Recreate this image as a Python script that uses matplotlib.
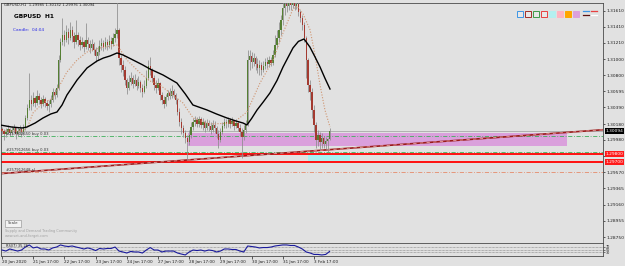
import numpy as np
import matplotlib
matplotlib.use("Agg")
import matplotlib.pyplot as plt
from matplotlib.patches import Rectangle
from matplotlib.lines import Line2D

# ---------------- data ----------------
symbol = "GBPUSD"
timeframe = "H1"
candle_timer = "04:04"
first_open = 1.30120

closes = [1.30092, 1.30054, 1.30080, 1.30117, 1.30067, 1.30105, 1.30130, 1.30054, 1.30092, 1.30117,
          1.30080, 1.30130, 1.30256, 1.30383, 1.30484, 1.30433, 1.30509, 1.30446, 1.30535, 1.30484,
          1.30433, 1.30497, 1.30446, 1.30408, 1.30433, 1.30484, 1.30585, 1.30547, 1.30636, 1.30990,
          1.31218, 1.31306, 1.31243, 1.31344, 1.31268, 1.31370, 1.31294, 1.31218, 1.31306, 1.31243,
          1.31180, 1.31218, 1.31154, 1.31243, 1.31192, 1.31142, 1.31192, 1.31117, 1.31041, 1.31091,
          1.31167, 1.31205, 1.31154, 1.31218, 1.31180, 1.31230, 1.31192, 1.31268, 1.31319, 1.31370,
          1.31015, 1.30927, 1.30864, 1.30737, 1.30636, 1.30712, 1.30762, 1.30686, 1.30737, 1.30661,
          1.30712, 1.30636, 1.30585, 1.30661, 1.30762, 1.30914, 1.30864, 1.30762, 1.30674, 1.30636,
          1.30699, 1.30547, 1.30484, 1.30433, 1.30522, 1.30573, 1.30535, 1.30598, 1.30547, 1.30484,
          1.30332, 1.30206, 1.30130, 1.30067, 1.30003, 1.29953, 1.30041, 1.30142, 1.30206, 1.30231,
          1.30180, 1.30244, 1.30168, 1.30206, 1.30130, 1.30193, 1.30155, 1.30105, 1.30168, 1.30130,
          1.30054, 1.29978, 1.30080, 1.30155, 1.30206, 1.30180, 1.30231, 1.30180, 1.30218, 1.30155,
          1.30193, 1.30130, 1.30080, 1.30016, 1.30105, 1.30180, 1.30990, 1.31041, 1.30965, 1.31015,
          1.30939, 1.30889, 1.30927, 1.30864, 1.30914, 1.30965, 1.30939, 1.30990, 1.30952, 1.31053,
          1.31180, 1.31268, 1.31370, 1.31496, 1.31648, 1.31698, 1.31673, 1.31724, 1.31686, 1.31711,
          1.31673, 1.31698, 1.31597, 1.31521, 1.31433, 1.31268, 1.30990, 1.30674, 1.30585, 1.30358,
          1.30168, 1.29978, 1.30041, 1.29953, 1.30003, 1.29927, 1.29965, 1.29985, 1.30094]

highs = [1.30142, 1.30117, 1.30130, 1.30168, 1.30130, 1.30155, 1.30180, 1.30142, 1.30142, 1.30168,
         1.30142, 1.30180, 1.30294, 1.30433, 1.30826, 1.30547, 1.30585, 1.30535, 1.30611, 1.30573,
         1.30522, 1.30547, 1.30522, 1.30484, 1.30484, 1.30547, 1.30636, 1.30623, 1.30686, 1.31053,
         1.31268, 1.31521, 1.31370, 1.31433, 1.31395, 1.31471, 1.31420, 1.31344, 1.31496, 1.31344,
         1.31294, 1.31281, 1.31243, 1.31458, 1.31281, 1.31243, 1.31256, 1.31218, 1.31154, 1.31167,
         1.31243, 1.31268, 1.31243, 1.31281, 1.31256, 1.31306, 1.31281, 1.31332, 1.31395, 1.31812,
         1.31395, 1.31053, 1.30990, 1.30914, 1.30762, 1.30800, 1.30838, 1.30800, 1.30813, 1.30762,
         1.30788, 1.30737, 1.30686, 1.30737, 1.30864, 1.30990, 1.31028, 1.30889, 1.30800, 1.30737,
         1.30762, 1.30712, 1.30585, 1.30535, 1.30560, 1.30611, 1.30636, 1.30674, 1.30623, 1.30573,
         1.30509, 1.30383, 1.30256, 1.30168, 1.30105, 1.30041, 1.30105, 1.30206, 1.30256, 1.30282,
         1.30269, 1.30282, 1.30269, 1.30256, 1.30231, 1.30244, 1.30231, 1.30206, 1.30231, 1.30218,
         1.30155, 1.30105, 1.30130, 1.30206, 1.30256, 1.30244, 1.30269, 1.30256, 1.30269, 1.30231,
         1.30244, 1.30218, 1.30180, 1.30130, 1.30168, 1.30231, 1.31117, 1.31117, 1.31091, 1.31079,
         1.31041, 1.31015, 1.30990, 1.30965, 1.30977, 1.31015, 1.31028, 1.31041, 1.31028, 1.31117,
         1.31306, 1.31370, 1.31471, 1.31559, 1.31749, 1.31787, 1.31749, 1.31800, 1.31774, 1.31787,
         1.31749, 1.31774, 1.31724, 1.31623, 1.31559, 1.31471, 1.31294, 1.31015, 1.30737, 1.30636,
         1.30421, 1.30206, 1.30105, 1.30080, 1.30067, 1.30029, 1.30016, 1.30003, 1.30132]

lows = [1.30054, 1.29978, 1.30016, 1.30054, 1.30029, 1.30041, 1.30067, 1.29991, 1.30029, 1.30054,
        1.30016, 1.30041, 1.30105, 1.30231, 1.30358, 1.30358, 1.30408, 1.30395, 1.30421, 1.30433,
        1.30383, 1.30408, 1.30395, 1.30358, 1.30332, 1.30395, 1.30459, 1.30497, 1.30522, 1.30611,
        1.30965, 1.31180, 1.31167, 1.31218, 1.31192, 1.31243, 1.31218, 1.31142, 1.31192, 1.31167,
        1.31117, 1.31142, 1.31091, 1.31129, 1.31117, 1.31079, 1.31104, 1.31053, 1.30965, 1.30990,
        1.31053, 1.31117, 1.31104, 1.31129, 1.31117, 1.31142, 1.31129, 1.31167, 1.31218, 1.31268,
        1.30927, 1.30838, 1.30788, 1.30674, 1.30560, 1.30611, 1.30674, 1.30636, 1.30661, 1.30611,
        1.30636, 1.30585, 1.30522, 1.30573, 1.30636, 1.30737, 1.30800, 1.30712, 1.30611, 1.30573,
        1.30611, 1.30484, 1.30433, 1.30383, 1.30408, 1.30484, 1.30497, 1.30509, 1.30509, 1.30433,
        1.30294, 1.30155, 1.30054, 1.30016, 1.29940, 1.29725, 1.29915, 1.30003, 1.30105, 1.30155,
        1.30142, 1.30142, 1.30130, 1.30105, 1.30080, 1.30105, 1.30092, 1.30054, 1.30080, 1.30067,
        1.30003, 1.29877, 1.29953, 1.30054, 1.30130, 1.30130, 1.30142, 1.30130, 1.30155, 1.30105,
        1.30130, 1.30092, 1.30029, 1.29750, 1.29978, 1.30067, 1.30155, 1.30864, 1.30889, 1.30914,
        1.30864, 1.30826, 1.30800, 1.30800, 1.30838, 1.30876, 1.30889, 1.30901, 1.30914, 1.30927,
        1.31028, 1.31142, 1.31218, 1.31306, 1.31433, 1.31559, 1.31597, 1.31623, 1.31623, 1.31648,
        1.31623, 1.31635, 1.31547, 1.31471, 1.31370, 1.31218, 1.30762, 1.30585, 1.30484, 1.30256,
        1.30080, 1.29877, 1.29902, 1.29852, 1.29877, 1.29877, 1.29852, 1.29826, 1.29976]

ma_slow_bars = [-1.0, 5.0, 10.3, 12.8, 17.0, 21.0, 25.0, 28.2, 30.8, 33.3, 38.5, 43.6, 48.7, 52.0,
                55.4, 59.0, 62.1, 67.2, 72.0, 75.9, 82.6, 89.7, 94.0, 97.9, 105.1, 110.0, 115.4,
                120.0, 123.6, 125.6, 128.0, 130.8, 134.0, 137.4, 141.0, 144.1, 149.2, 152.0,
                154.9, 157.9, 160.5, 163.1, 165.6, 168.2]
ma_slow_vals = [1.30168, 1.30142, 1.30130, 1.30142, 1.30193, 1.30256, 1.30307, 1.30332, 1.30421,
                1.30547, 1.30737, 1.30889, 1.30977, 1.31015, 1.31041, 1.31079, 1.31053, 1.30990,
                1.30930, 1.30876, 1.30800, 1.30699, 1.30560, 1.30421, 1.30358, 1.30307, 1.30256,
                1.30218, 1.30193, 1.30168, 1.30250, 1.30358, 1.30460, 1.30573, 1.30730, 1.30901,
                1.31142, 1.31225, 1.31256, 1.31154, 1.31030, 1.30901, 1.30760, 1.30623]

ma_fast_bars = [0, 10.8, 13.3, 15.9, 21.0, 26.2, 29.7, 33.3, 38.5, 43.6, 50.3, 59.0, 64.1, 70.8,
                75.9, 81.0, 92.8, 98.0, 106.7, 118.5, 125.6, 132.3, 139.0, 144.1, 149.2, 151.3,
                154.4, 158.0, 160.5, 163.1, 165.6, 168.2]
ma_fast_vals = [1.30092, 1.30092, 1.30155, 1.30320, 1.30446, 1.30509, 1.30674, 1.30838, 1.30990,
                1.31091, 1.31142, 1.31180, 1.30990, 1.30826, 1.30724, 1.30674, 1.30446, 1.30256,
                1.30180, 1.30193, 1.30332, 1.30699, 1.30990, 1.31332, 1.31635, 1.31673, 1.31572,
                1.31370, 1.31053, 1.30674, 1.30358, 1.30142]

rsi_bars = list(range(0, 169, 2))
rsi_vals = [46, 38, 54, 46, 38, 46, 69, 85, 62, 69, 54, 54, 46, 62, 69, 85, 77, 73, 77, 69,
            62, 54, 62, 54, 42, 58, 54, 58, 58, 69, 38, 31, 23, 35, 31, 31, 23, 46, 65, 46,
            46, 31, 38, 38, 38, 23, 15, 8, 31, 46, 42, 46, 38, 46, 42, 31, 38, 54, 54, 50,
            50, 38, 31, 77, 73, 69, 62, 65, 65, 69, 77, 81, 85, 85, 81, 81, 69, 54, 31, 23,
            12, 12, 8, 12, 35]
rsi_levels = [70, 50, 30]
rsi_label = "RSI(7) 35.26"

time_tick_bars = [0, 16, 32, 48, 64, 80, 96, 112, 128, 144, 160]
time_tick_labels = ["20 Jan 2020", "21 Jan 17:00", "22 Jan 17:00", "23 Jan 17:00", "24 Jan 17:00",
                    "27 Jan 17:00", "28 Jan 17:00", "29 Jan 17:00", "30 Jan 17:00", "31 Jan 17:00",
                    "3 Feb 17:00"]
price_tick_labels = ["1.31610", "1.31410", "1.31210", "1.31000", "1.30800", "1.30595", "1.30390",
                     "1.30180", "1.29980", "1.29780", "1.29570", "1.29365", "1.29160", "1.28955",
                     "1.28750"]

zone_pink = (95.4, 289.7, 1.29900, 1.30065)
zone_cyan = (157.0, 178.5, 1.29710, 1.29790)
red_levels = [1.29800, 1.29700]
buy_levels = [1.30030, 1.29830]
buy_labels = ["#257912650 buy 0.03", "#257912656 buy 0.03"]
sl_level = 1.29575
sl_label = "#257912648 sl"
trend_p1 = (0, 1.29554)
trend_p2 = (300, 1.30093)

# ---------------- figure ----------------
W, H = 625, 266
BG = "#E1E1E1"
plt.rcParams["font.family"] = ["DejaVu Sans"]
fig = plt.figure(figsize=(W / 100, H / 100), dpi=100, facecolor=BG)

def fx(px):
    return px / W

def fy(py):
    return 1 - py / H

ax = fig.add_axes([fx(1), fy(243), fx(602), 240 / H], facecolor=BG)
ax2 = fig.add_axes([fx(1), fy(256), fx(602), 13 / H], facecolor=BG)

xmin, xmax = -0.51, 308.2
ax.set_xlim(xmin, xmax)
ax2.set_xlim(xmin, xmax)
ax.set_ylim(1.28675, 1.31711)
ax2.set_ylim(0, 100)

for a in (ax, ax2):
    for s in a.spines.values():
        s.set_color("#4a4a4a")
        s.set_linewidth(0.6)

# zones
ax.add_patch(Rectangle((zone_pink[0], zone_pink[2]), zone_pink[1] - zone_pink[0],
                       zone_pink[3] - zone_pink[2], facecolor="#DAA0DC", edgecolor="none", zorder=1))
ax.add_patch(Rectangle((zone_cyan[0], zone_cyan[2]), zone_cyan[1] - zone_cyan[0],
                       zone_cyan[3] - zone_cyan[2], facecolor="#A8F0F0", edgecolor="none", zorder=1))

# level lines
last_close = closes[-1]
ax.axhline(last_close, color="#A8A8A8", lw=0.6, zorder=1.5)
for lv in buy_levels:
    ax.axhline(lv, color="#3EAF5A", lw=0.6, ls=(0, (5, 2, 1, 2)), zorder=1.6)
ax.axhline(sl_level, color="#E58A6A", lw=0.6, ls=(0, (5, 2, 1, 2)), zorder=1.6)
for lv in red_levels:
    ax.axhline(lv, color="#FF1010", lw=1.4, zorder=2)

ax.axline(trend_p1, trend_p2, color="#9A1B1B", lw=1.2, zorder=2.2)
ax.axline(trend_p1, trend_p2, color="#E9A3A3", lw=0.6, ls=(0, (4, 4)), zorder=2.3)

# candles
n = len(closes)
idx = np.arange(n)
c = np.array(closes)
o = np.concatenate([[first_open], c[:-1]])
h = np.maximum.reduce([np.array(highs), o, c])
l = np.minimum.reduce([np.array(lows), o, c])
up = c >= o
ax.vlines(idx, l, h, color="#8C8C8C", lw=0.55, zorder=3)
body_b = np.minimum(o, c)
body_h = np.maximum(np.abs(c - o), 0.00004)
ax.bar(idx, body_h, bottom=body_b, width=0.7,
       color=np.where(up, "#557F33", "#A33A30"), lw=0, zorder=3.2)

# moving averages
ax.plot(ma_fast_bars, ma_fast_vals, color="#CF9470", lw=0.8, ls=(0, (1, 1.5)), zorder=4)
ax.plot(ma_slow_bars, ma_slow_vals, color="#000000", lw=1.0, zorder=4.2)

# price axis (labels hidden under the red level boxes are left blank, as in the terminal)
def hidden_by_box(val):
    return any(abs(val - lv) < 0.00035 for lv in red_levels + [closes[-1]])

ax.yaxis.tick_right()
tick_vals = [float(t) for t in price_tick_labels]
ax.set_yticks(tick_vals)
ax.set_yticklabels(["" if hidden_by_box(v) else t for v, t in zip(tick_vals, price_tick_labels)])
ax.tick_params(axis="y", labelsize=3.2, length=1.5, width=0.5, pad=1.0, colors="#202020")
ax.set_xticks([])

def axis_box(a, val, text, bg, fg="white"):
    a.text(1.004, val, text, transform=a.get_yaxis_transform(), ha="left", va="center",
           fontsize=3.2, color=fg, clip_on=False, zorder=10,
           bbox=dict(facecolor=bg, edgecolor="none", pad=0.5))

axis_box(ax, last_close, f"{last_close:.5f}", "#000000")
for lv in red_levels:
    axis_box(ax, lv, f"{lv:.5f}", "#FF1A1A")

# order labels
for lv, lab in zip(buy_levels, buy_labels):
    ax.text(2, lv, lab, fontsize=2.7, color="#303030", va="bottom", ha="left", zorder=5)
ax.text(2, sl_level, sl_label, fontsize=2.7, color="#303030", va="bottom", ha="left", zorder=5)

# header texts
o_last, h_last, l_last, c_last = o[-1], h[-1], l[-1], c[-1]
fig.text(fx(4), fy(5.5), f"{symbol},{timeframe}  {o_last:.5f} {h_last:.5f} {l_last:.5f} {c_last:.5f}",
         fontsize=2.7, color="#202020", va="center", ha="left")
fig.text(fx(14), fy(17), f"{symbol}  {timeframe}", fontsize=4.2, fontweight="bold",
         color="#000000", va="center", ha="left")
fig.text(fx(13), fy(30), f"Candle:  {candle_timer}", fontsize=3.1, color="#2A2AE6",
         va="center", ha="left")

# scale button and watermark
fig.add_artist(Rectangle((fx(5), fy(227)), fx(16), 7 / H, transform=fig.transFigure,
                         facecolor="#F2F2F2", edgecolor="#8A8A8A", lw=0.4))
fig.text(fx(13), fy(223.5), "Scale", fontsize=2.8, color="#404040", ha="center", va="center")
fig.text(fx(5), fy(231), "Supply and Demand Trading Community", fontsize=2.5, color="#A0A0A0",
         va="center", ha="left")
fig.text(fx(5), fy(236), "www.set-and-forget.com", fontsize=2.5, color="#A0A0A0",
         va="center", ha="left")

# top-right object buttons
squares = [("#E8E8E8", "#3C96E6"), ("#E8E8E8", "#A0302A"), ("#E8E8E8", "#3E9A4A"),
           ("#E8E8E8", "#E84040"), ("#B4F0F0", "#B4F0F0"), ("#FFB4C0", "#FFB4C0"),
           ("#FFA500", "#FFA500"), ("#DCA0DC", "#DCA0DC")]
for k, (fc, ec) in enumerate(squares):
    fig.add_artist(Rectangle((fx(517 + 8 * k), fy(16.5)), fx(6), 6 / H, transform=fig.transFigure,
                             facecolor=fc, edgecolor=ec, lw=0.7))
for k, (c1, c2) in enumerate([("#3C96E6", "#5A1010"), ("#E84040", "#FFFFFF")]):
    x0 = 583 + 8 * k
    fig.add_artist(Line2D([fx(x0), fx(x0 + 6)], [fy(11), fy(11)], color=c1, lw=0.9,
                          transform=fig.transFigure))
    fig.add_artist(Line2D([fx(x0), fx(x0 + 6)], [fy(15), fy(15)], color=c2, lw=0.9,
                          transform=fig.transFigure))

# indicator window
for lv in rsi_levels:
    ax2.axhline(lv, color="#7A7A7A", lw=0.5, ls=(0, (1, 1)), zorder=1)
ax2.plot(rsi_bars, rsi_vals, color="#1A1A9C", lw=0.8, zorder=3)
ax2.text(2, 96, rsi_label, fontsize=2.5, color="#202020", va="top", ha="left")
ax2.yaxis.tick_right()
ax2.set_yticks(rsi_levels)
ax2.set_yticklabels([str(v) for v in rsi_levels])
ax2.tick_params(axis="y", labelsize=2.4, length=1.5, width=0.4, pad=0.8, colors="#202020")
ax2.set_xticks(time_tick_bars)
ax2.set_xticklabels(time_tick_labels, ha="left")
ax2.tick_params(axis="x", labelsize=3.0, length=2, width=0.5, pad=1.0, colors="#202020")

fig.savefig("out.png", dpi=100, facecolor=BG)
